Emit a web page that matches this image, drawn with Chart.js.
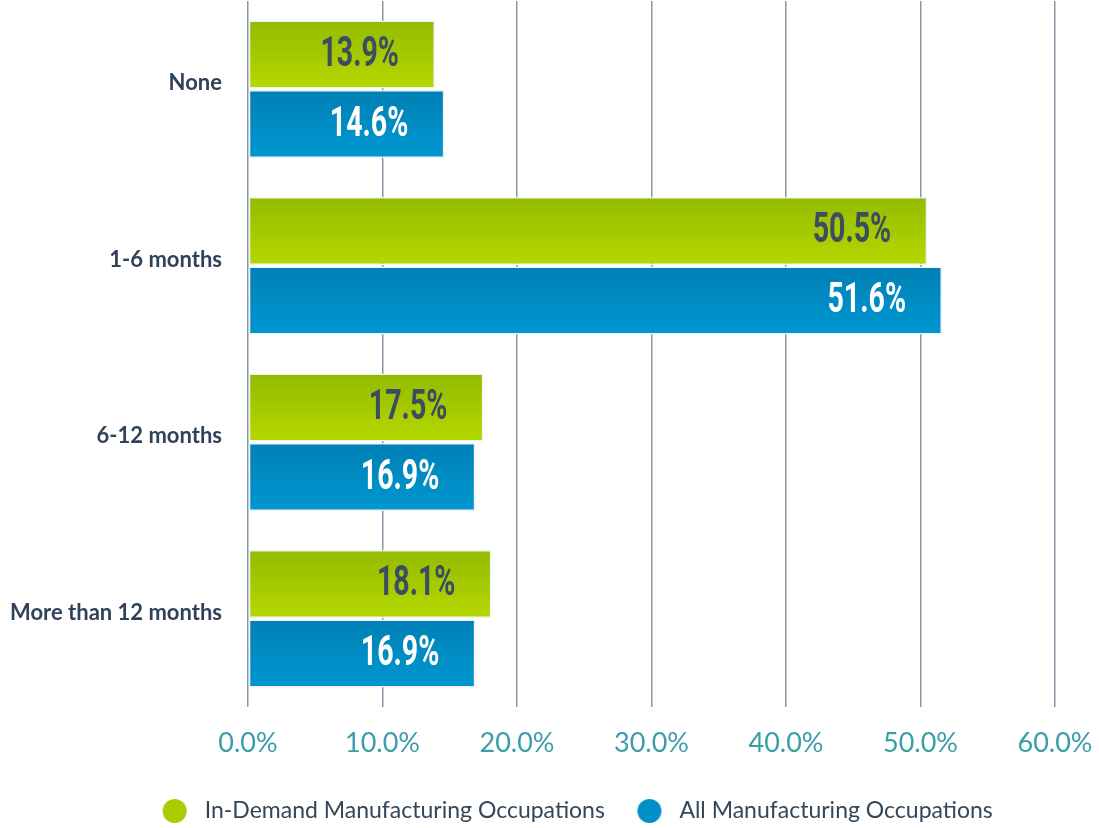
<!DOCTYPE html>
<html>
<head>
<meta charset="utf-8">
<script src="https://cdn.jsdelivr.net/npm/chart.js@4/dist/chart.umd.min.js"></script>
<style>
  body { margin: 0; background: #fff; }
  #wrap { width: 1099px; height: 828px; }
</style>
</head>
<body>
<div id="wrap"><canvas id="training-chart"></canvas></div>
<script>
const categories = ["None", "1-6 months", "6-12 months", "More than 12 months"];
const inDemand = [13.9, 50.5, 17.5, 18.1];
const allMfg = [14.6, 51.6, 16.9, 16.9];
const seriesNames = ["In-Demand Manufacturing Occupations", "All Manufacturing Occupations"];

const greenTop = "#93ba00", greenBottom = "#b6d800";
const blueTop = "#0080b5", blueBottom = "#0097d1";
const dotColors = ["#a8cc00", "#0090c8"];

// legend dot: circle sits left inside a wider image so the text gets more room
function makeDot(color) {
    const c = document.createElement("canvas");
    c.width = 40;
    c.height = 24;
    const x = c.getContext("2d");
    x.fillStyle = color;
    x.beginPath();
    x.arc(13, 12, 12, 0, Math.PI * 2);
    x.fill();
    return c;
}
const dots = dotColors.map(makeDot);

// vertical gradient on each bar (each bar gets its own options copy)
const gradientPlugin = {
    id: "barGradients",
    beforeDatasetsDraw(chart) {
        const ctx = chart.ctx;
        chart.data.datasets.forEach((ds, i) => {
            const meta = chart.getDatasetMeta(i);
            meta.data.forEach(bar => {
                const top = bar.y - bar.height / 2;
                const g = ctx.createLinearGradient(0, top, 0, top + bar.height);
                g.addColorStop(0, i === 0 ? greenTop : blueTop);
                g.addColorStop(1, i === 0 ? greenBottom : blueBottom);
                bar.options = Object.assign({}, bar.options, { backgroundColor: g });
            });
        });
    }
};

// value labels near the end of each bar, squeezed to look condensed
const labelPlugin = {
    id: "barLabels",
    afterDatasetsDraw(chart) {
        const ctx = chart.ctx;
        chart.data.datasets.forEach((ds, i) => {
            const meta = chart.getDatasetMeta(i);
            meta.data.forEach((bar, j) => {
                ctx.save();
                ctx.translate(bar.x - 36, bar.y + 1);
                ctx.scale(0.68, 1);
                ctx.font = "bold 42px Roboto, sans-serif";
                ctx.textAlign = "right";
                ctx.textBaseline = "middle";
                ctx.fillStyle = i === 0 ? "#3b4d63" : "#ffffff";
                ctx.fillText(ds.data[j].toFixed(1) + "%", 0, 0);
                ctx.restore();
            });
        });
    }
};

// nudge legend to the right, like the original
const legendShift = {
    id: "legendShift",
    afterLayout(chart) {
        chart.legend.left += 52;
        chart.legend.right += 52;
    }
};

new Chart(document.getElementById("training-chart"), {
    type: "bar",
    data: {
        labels: categories,
        datasets: [
            {
                label: seriesNames[0],
                data: inDemand,
                backgroundColor: greenBottom,
                borderColor: "#eef3f6",
                borderWidth: 1.5,
                borderSkipped: false
            },
            {
                label: seriesNames[1],
                data: allMfg,
                backgroundColor: blueBottom,
                borderColor: "#eef3f6",
                borderWidth: 1.5,
                borderSkipped: false
            }
        ]
    },
    options: {
        indexAxis: "y",
        responsive: true,
        maintainAspectRatio: false,
        animation: false,
        categoryPercentage: 0.79,
        barPercentage: 0.975,
        layout: { padding: { top: 1, right: 44, left: 4, bottom: -4.5 } },
        scales: {
            x: {
                min: 0,
                max: 60,
                afterFit: s => { s.height = 52.5; s.paddingLeft = 0; s.paddingRight = 0; },
                ticks: {
                    stepSize: 10,
                    padding: 20,
                    color: "#3a9ea7",
                    font: { family: "Lato, 'Open Sans', sans-serif", size: 27 },
                    callback: v => v.toFixed(1) + "%"
                },
                grid: { color: "#8797a8", lineWidth: 1.5, drawTicks: false },
                border: { display: false }
            },
            y: {
                afterFit: s => { s.width = 244; s.paddingTop = 0; s.paddingBottom = 0; },
                ticks: {
                    padding: 26,
                    labelOffset: -6,
                    color: "#2f4258",
                    font: { family: "Lato, 'Open Sans', sans-serif", size: 22, weight: "bold" }
                },
                grid: { display: false, drawTicks: false },
                border: { display: false }
            }
        },
        plugins: {
            legend: {
                position: "bottom",
                labels: {
                    usePointStyle: true,
                    boxWidth: 23,
                    boxHeight: 17,
                    padding: 40,
                    color: "#33475b",
                    font: { family: "Lato, 'Open Sans', sans-serif", size: 23 },
                    generateLabels: chart => chart.data.datasets.map((ds, i) => ({
                        text: ds.label,
                        pointStyle: dots[i],
                        fillStyle: dotColors[i],
                        strokeStyle: dotColors[i],
                        lineWidth: 0,
                        fontColor: "#33475b",
                        hidden: false,
                        datasetIndex: i
                    }))
                }
            },
            tooltip: { enabled: false }
        }
    },
    plugins: [gradientPlugin, labelPlugin, legendShift]
});
</script>
</body>
</html>
